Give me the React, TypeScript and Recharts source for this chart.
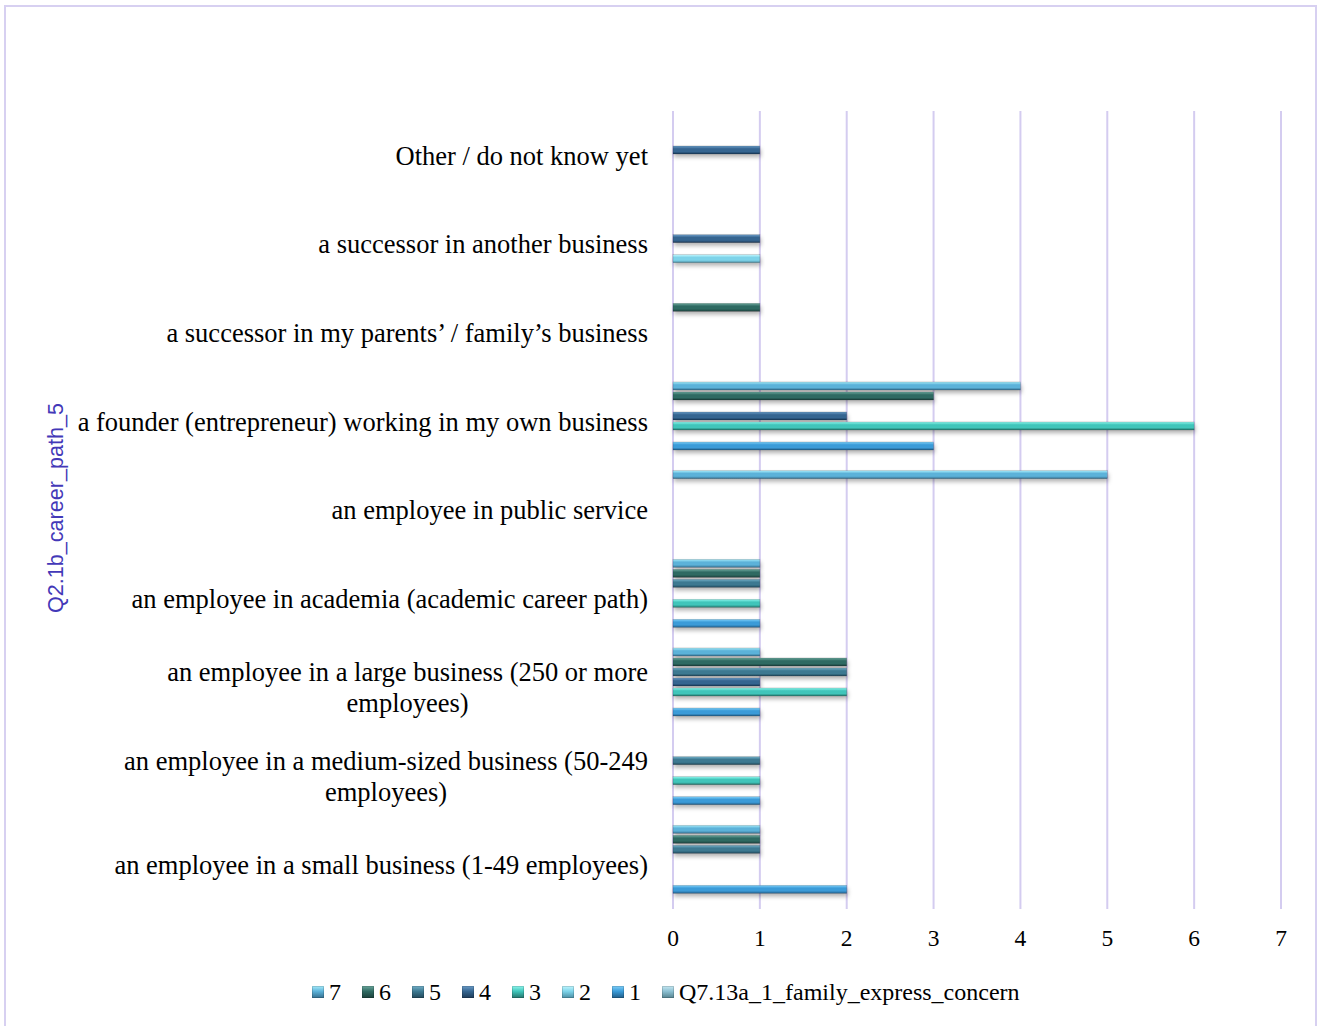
import { Bar, BarChart, CartesianGrid, XAxis, YAxis } from 'recharts'

// categories, top to bottom as drawn
const categories = [
  'Other / do not know yet',
  'a successor in another business',
  'a successor in my parents’ / family’s business',
  'a founder (entrepreneur) working in my own business',
  'an employee in public service',
  'an employee in academia (academic career path)',
  'an employee in a large business (250 or more\nemployees)',
  'an employee in a medium-sized business (50-249\nemployees)',
  'an employee in a small business (1-49 employees)',
]

// series values per category (same order as categories)
const s7 = [0, 0, 0, 4, 5, 1, 1, 0, 1]
const s6 = [0, 0, 1, 3, 0, 1, 2, 0, 1]
const s5 = [0, 0, 0, 0, 0, 1, 2, 1, 1]
const s4 = [1, 1, 0, 2, 0, 0, 1, 0, 0]
const s3 = [0, 0, 0, 6, 0, 1, 2, 1, 0]
const s2 = [0, 1, 0, 0, 0, 0, 0, 0, 0]
const s1 = [0, 0, 0, 3, 0, 1, 1, 1, 2]
const sQ = [0, 0, 0, 0, 0, 0, 0, 0, 0]

const xTicks = [0, 1, 2, 3, 4, 5, 6, 7]

const seriesList = [
  { key: 'v7', name: '7', values: s7 },
  { key: 'v6', name: '6', values: s6 },
  { key: 'v5', name: '5', values: s5 },
  { key: 'v4', name: '4', values: s4 },
  { key: 'v3', name: '3', values: s3 },
  { key: 'v2', name: '2', values: s2 },
  { key: 'v1', name: '1', values: s1 },
  { key: 'vQ', name: 'Q7.13a_1_family_express_concern', values: sQ },
]

// top highlight, body, bottom shade
const palette: Record<string, [string, string, string]> = {
  v7: ['#a6ecfb', '#5cb2d9', '#356f8f'],
  v6: ['#6aa79c', '#2f6a62', '#1b403b'],
  v5: ['#74b0c8', '#3c7991', '#22485a'],
  v4: ['#6b9cc8', '#356590', '#1d3b58'],
  v3: ['#8ff7ee', '#3fc5ba', '#24746b'],
  v2: ['#c0f7ff', '#7dd3e9', '#4b8ea3'],
  v1: ['#7fd0fa', '#3a9bd8', '#215d88'],
  vQ: ['#c6e8f2', '#8cc0d2', '#55838f'],
}

const data = categories.map((name, i) => {
  const row: Record<string, string | number> = { name }
  seriesList.forEach((s) => {
    row[s.key] = s.values[i]
  })
  return row
})

const serif = '"Liberation Serif", "Times New Roman", serif'
const labelSize = 26.5

let measureCtx: CanvasRenderingContext2D | null = null
function textWidth(t: string) {
  if (!measureCtx) {
    measureCtx = document.createElement('canvas').getContext('2d')
  }
  if (!measureCtx) return t.length * 12
  measureCtx.font = `${labelSize}px ${serif}`
  return measureCtx.measureText(t).width
}

function CategoryTick(props: any) {
  const { x, y, payload } = props
  const lines = String(payload.value).split('\n')
  if (lines.length === 1) {
    return (
      <text x={x} y={y} dy="0.35em" textAnchor="end" fontFamily={serif} fontSize={labelSize} fill="#000">
        {lines[0]}
      </text>
    )
  }
  const w = textWidth(lines[0])
  return (
    <g>
      <text x={x} y={y - 15.5} dy="0.35em" textAnchor="end" fontFamily={serif} fontSize={labelSize} fill="#000">
        {lines[0]}
      </text>
      <text x={x - w / 2} y={y + 15.5} dy="0.35em" textAnchor="middle" fontFamily={serif} fontSize={labelSize} fill="#000">
        {lines[1]}
      </text>
    </g>
  )
}

function ValueTick(props: any) {
  const { x, y, payload } = props
  return (
    <text x={x} y={y} dy="0.35em" textAnchor="middle" fontFamily={serif} fontSize={23.5} fill="#000">
      {payload.value}
    </text>
  )
}

function BevelBar(props: any) {
  const { x, y, width, height, fill } = props
  if (!width || width <= 0) return <g />
  return (
    <g filter="url(#barShadow)">
      <rect x={x} y={y} width={width} height={height} fill={fill} />
      <rect x={x} y={y} width={width} height={height} fill="none" stroke="rgba(0,0,0,0.25)" strokeWidth={0.6} />
    </g>
  )
}

function AxisTitle(props: any) {
  const { viewBox } = props
  const cy = viewBox.y + viewBox.height / 2 - 2
  const cx = 55
  return (
    <text
      x={cx}
      y={cy}
      transform={`rotate(-90, ${cx}, ${cy})`}
      textAnchor="middle"
      dominantBaseline="central"
      fontFamily='"Liberation Sans", Arial, sans-serif'
      fontSize={21.6}
      fill="#4338b8"
    >
      Q2.1b_career_path_5
    </text>
  )
}

export default function App() {
  return (
    <div style={{ position: 'absolute', left: 0, top: 0, width: 1318, height: 1026, background: '#fff' }}>
      <div
        style={{
          position: 'absolute',
          left: 4,
          top: 5,
          width: 1313,
          height: 1030,
          border: '2px solid #d7d0f1',
          boxSizing: 'border-box',
        }}
      />
      <BarChart
        width={1318}
        height={1026}
        data={data}
        layout="vertical"
        margin={{ top: 111, right: 37, bottom: 79, left: 0 }}
        barCategoryGap={5}
        barGap={2}
        style={{ position: 'absolute', left: 0, top: 0 }}
      >
        <defs>
          {seriesList.map((s) => (
            <linearGradient key={s.key} id={`grad-${s.key}`} x1="0" y1="0" x2="0" y2="1">
              <stop offset="0%" stopColor={palette[s.key][0]} />
              <stop offset="35%" stopColor={palette[s.key][1]} />
              <stop offset="70%" stopColor={palette[s.key][1]} />
              <stop offset="100%" stopColor={palette[s.key][2]} />
            </linearGradient>
          ))}
          <filter id="barShadow" x="-5%" y="-50%" width="110%" height="250%">
            <feDropShadow dx="1" dy="3" stdDeviation="2" floodColor="#000" floodOpacity="0.3" />
          </filter>
        </defs>
        <CartesianGrid horizontal={false} stroke="#d4ccf0" strokeWidth={2} />
        <XAxis
          type="number"
          domain={[0, 7]}
          ticks={xTicks}
          axisLine={false}
          tickLine={false}
          tickSize={0}
          tickMargin={29}
          height={38}
          tick={<ValueTick />}
          interval={0}
        />
        <YAxis
          type="category"
          dataKey="name"
          width={673}
          axisLine={false}
          tickLine={false}
          tickSize={0}
          tickMargin={25}
          tick={<CategoryTick />}
          interval={0}
          label={<AxisTitle />}
        />
        {seriesList.map((s) => (
          <Bar
            key={s.key}
            dataKey={s.key}
            name={s.name}
            fill={`url(#grad-${s.key})`}
            shape={<BevelBar />}
            isAnimationActive={false}
          />
        ))}
      </BarChart>
      <div
        style={{
          position: 'absolute',
          top: 978,
          left: 312,
          display: 'flex',
          alignItems: 'center',
          fontFamily: serif,
          fontSize: 24,
          color: '#000',
          lineHeight: '28px',
          whiteSpace: 'nowrap',
        }}
      >
        {seriesList.map((s) => (
          <div key={s.key} style={{ display: 'flex', alignItems: 'center', marginRight: 21 }}>
            <span
              style={{
                display: 'inline-block',
                width: 12,
                height: 12,
                marginRight: 5,
                background: `linear-gradient(${palette[s.key][0]}, ${palette[s.key][1]} 45%, ${palette[s.key][2]})`,
                boxShadow: 'inset 0 0 0 1px rgba(0,0,0,0.15)',
              }}
            />
            <span>{s.name}</span>
          </div>
        ))}
      </div>
    </div>
  )
}
